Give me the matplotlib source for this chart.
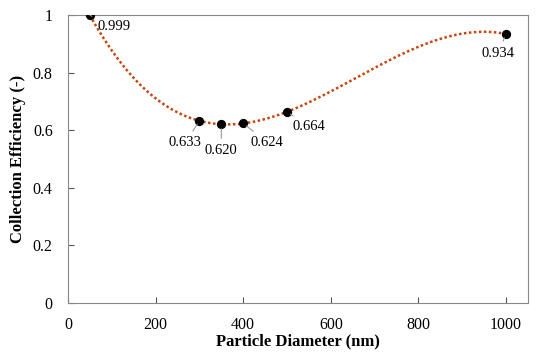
import numpy as np
import matplotlib.pyplot as plt

plt.rcParams['font.family'] = ['Liberation Serif', 'DejaVu Serif']

# data
diameter_nm = [50, 300, 350, 400, 500, 1000]
efficiency = [0.999, 0.633, 0.620, 0.624, 0.664, 0.934]
point_labels = ['0.999', '0.633', '0.620', '0.624', '0.664', '0.934']
x_ticks = [0, 200, 400, 600, 800, 1000]
y_ticks = [0, 0.2, 0.4, 0.6, 0.8, 1.0]
y_tick_labels = ['0', '0.2', '0.4', '0.6', '0.8', '1']

# label offsets in pixels (dx, dy)
label_offsets = [(24, -11), (-14, -22), (0, -26), (24, -19), (22, -15), (-8, -19)]

fig = plt.figure(figsize=(5.5, 3.54), dpi=100)
ax = fig.add_axes([0.1236, 0.144, 0.8364, 0.8136])

# polynomial trendline (order 3), like a spreadsheet trendline
coef = np.polyfit(diameter_nm, efficiency, 3)
xs = np.linspace(min(diameter_nm), max(diameter_nm), 300)
ax.plot(xs, np.polyval(coef, xs), linestyle=(0, (1, 1)), color='#C8440C', lw=1.8, zorder=2)

ax.scatter(diameter_nm, efficiency, s=32, color='black', zorder=3)

for x, y, lab, off in zip(diameter_nm, efficiency, point_labels, label_offsets):
    ax.annotate(lab, (x, y), xytext=off, textcoords='offset pixels',
                ha='center', va='center', fontsize=10.5,
                arrowprops=dict(arrowstyle='-', color='#999999', lw=0.8,
                                shrinkA=2, shrinkB=3))

ax.set_xlim(0, 1050)
ax.set_ylim(0, 1)
ax.set_xticks(x_ticks)
ax.set_yticks(y_ticks)
ax.set_yticklabels(y_tick_labels)
ax.tick_params(direction='in', labelsize=11.5, color='#555555', length=4)
ax.tick_params(axis='x', pad=10)
ax.tick_params(axis='y', pad=11)
for s in ax.spines.values():
    s.set_color('#888888')

ax.set_xlabel('Particle Diameter (nm)', fontsize=12, fontweight='bold', labelpad=0)
ax.set_ylabel('Collection Efficiency (-)', fontsize=12, fontweight='bold', labelpad=5)

fig.savefig('out.png', dpi=100)
